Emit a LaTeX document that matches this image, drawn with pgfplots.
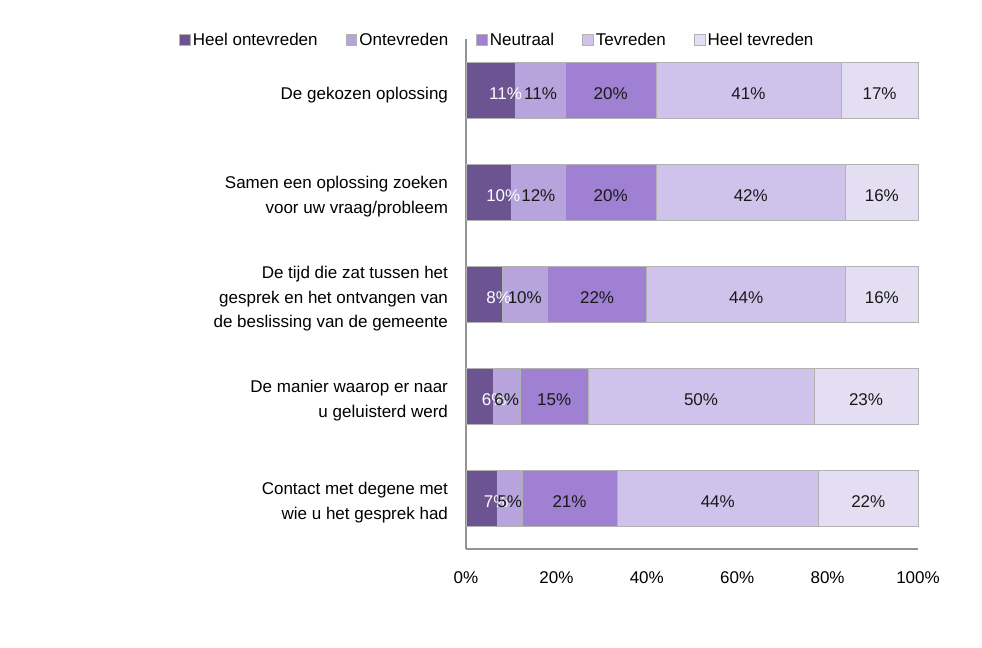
\documentclass[border=0pt]{standalone}
\usepackage{pgfplots}
\pgfplotsset{compat=1.18}
\usepackage{pgfplotstable}
\usepackage{fontspec}
\setmainfont{Liberation Sans}
\newcommand\lab{\fontsize{12.75}{18.4}\selectfont}
\definecolor{c1}{RGB}{108,84,146}
\definecolor{c2}{RGB}{183,164,220}
\definecolor{c3}{RGB}{160,128,210}
\definecolor{c4}{RGB}{208,195,235}
\definecolor{c5}{RGB}{228,222,242}
\pgfplotstableread{
y a b c d e
0 11 11 20 41 17
1 10 12 20 42 16
2 8 10 22 44 16
3 6 6 15 50 23
4 6.9 5.5 21 44.6 22
}\data
\pgfplotsset{
  barsty/.style={fill=#1, draw=gray!60, line width=0.5pt},
  labsty/.style={draw=none, mark=none, nodes near coords={\pgfplotspointmeta\%}, point meta=explicit symbolic,
     nodes near coords align={center},
     every node near coord/.append style={anchor=center, font=\lab, text=#1, yshift=-3pt}},
}
\begin{document}
\begin{tikzpicture}
\useasboundingbox (0,0) rectangle (736.5pt,485.25pt);
\begin{axis}[
  at={(349.5pt,73.5pt)}, anchor=south west,
  scale only axis, width=339pt, height=382.5pt,
  xbar stacked, bar width=42pt,
  xmin=0, xmax=100, ymin=-0.5, ymax=4.5, y dir=reverse,
  axis x line=bottom, axis y line=left,
  axis line style={-, draw=gray!85, line width=1pt},
  major tick length=0pt,
  xtick={0,20,40,60,80,100},
  xticklabels={0\%,20\%,40\%,60\%,80\%,100\%},
  xticklabel style={font=\lab, yshift=-13.5pt},
  ytick={0,1,2,3,4},
  yticklabels={{De gekozen oplossing},{Samen een oplossing zoeken\\voor uw vraag/probleem},{De tijd die zat tussen het\\gesprek en het ontvangen van\\de beslissing van de gemeente},{De manier waarop er naar\\u geluisterd werd},{Contact met degene met\\wie u het gesprek had}},
  yticklabel style={font=\lab, align=right, xshift=-10pt, yshift=-3.5pt},
  legend columns=5,
  legend style={at={(-0.644,0.998)}, anchor=west, draw=none, fill=none, font=\lab,
    /tikz/every even column/.append style={column sep=19pt}},
  legend image code/.code={\filldraw[#1, line width=0.3pt] (0pt,-4pt) rectangle (8pt,4pt);},
  clip=false,
]
\addplot[barsty=c1] table[x=a, y=y] {\data};
\addlegendentry{Heel ontevreden}
\addplot[barsty=c2] table[x=b, y=y] {\data};
\addlegendentry{Ontevreden}
\addplot[barsty=c3] table[x=c, y=y] {\data};
\addlegendentry{Neutraal}
\addplot[barsty=c4] table[x=d, y=y] {\data};
\addlegendentry{Tevreden}
\addplot[barsty=c5] table[x=e, y=y] {\data};
\addlegendentry{Heel tevreden}
\end{axis}
\begin{axis}[
  at={(349.5pt,73.5pt)}, anchor=south west,
  scale only axis, width=339pt, height=382.5pt,
  xmin=0, xmax=100, ymin=-0.5, ymax=4.5, y dir=reverse,
  hide axis, clip=false,
]
\addplot[labsty=white, every node near coord/.append style={xshift=11pt}] table[x=x, y=y, meta=lab] {
x y lab
5.5 0 11
5 1 10
4 2 8
3 3 6
3.45 4 7
};
\addplot[labsty=black!90] table[x=x, y=y, meta=lab] {
x y lab
16.5 0 11
16 1 12
13 2 10
9 3 6
9.65 4 5
};
\addplot[labsty=black!90] table[x=x, y=y, meta=lab] {
x y lab
32 0 20
32 1 20
29 2 22
19.5 3 15
22.9 4 21
};
\addplot[labsty=black!90] table[x=x, y=y, meta=lab] {
x y lab
62.5 0 41
63 1 42
62 2 44
52 3 50
55.7 4 44
};
\addplot[labsty=black!90] table[x=x, y=y, meta=lab] {
x y lab
91.5 0 17
92 1 16
92 2 16
88.5 3 23
89 4 22
};
\end{axis}
\end{tikzpicture}
\end{document}
